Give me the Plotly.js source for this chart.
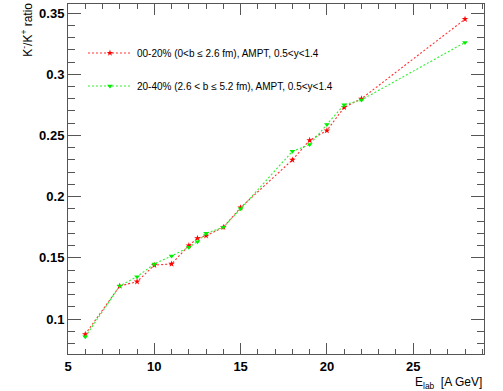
<!DOCTYPE html>
<html><head><meta charset="utf-8">
<script src="https://cdn.plot.ly/plotly-3.0.1.min.js"></script>
<style>html,body{margin:0;padding:0;background:#fff}#plot{width:503px;height:391px}</style>
</head><body><div id="plot"></div>
<script>
const energy = [6, 8, 9, 10, 11, 12, 12.5, 13, 14, 15, 18, 19, 20, 21, 22, 28];
const central = [0.0875, 0.127, 0.1305, 0.144, 0.145, 0.160, 0.166, 0.168, 0.175, 0.191, 0.230, 0.246, 0.254, 0.273, 0.280, 0.345];
const midCentral = [0.0855, 0.127, 0.1346, 0.145, 0.1515, 0.1586, 0.1632, 0.170, 0.175, 0.190, 0.237, 0.2425, 0.259, 0.275, 0.279, 0.326];
const names = ["00-20% (0<b \u2264 2.6 fm), AMPT, 0.5<y<1.4", "20-40% (2.6 < b \u2264 5.2 fm), AMPT, 0.5<y<1.4"];

const axisCommon = {
  showline: true, linecolor: '#555', linewidth: 1, mirror: 'ticks',
  ticks: 'inside', tickcolor: '#555', tickwidth: 1,
  showgrid: false, zeroline: false,
  tickfont: {family: 'Liberation Sans, Arial, sans-serif', size: 13, color: '#000', weight: 'bold'}
};

const traces = [
  {x: energy, y: central, name: names[0], mode: 'lines+markers', legend: 'legend',
   line: {color: '#ff3030', width: 1.1, dash: '2px,2px'},
   marker: {color: '#ff0000', symbol: 'star', size: 5}},
  {x: energy, y: midCentral, name: names[1], mode: 'lines+markers', legend: 'legend2',
   line: {color: '#30f030', width: 1.1, dash: '2px,2px'},
   marker: {color: '#00ee00', symbol: 'triangle-down', size: 5}}
];

const legendCommon = {
  xref: 'paper', yref: 'paper', xanchor: 'left', yanchor: 'middle', itemwidth: 44,
  bgcolor: 'rgba(0,0,0,0)', borderwidth: 0,
  font: {family: 'Liberation Sans, Arial, sans-serif', size: 10, color: '#000'}
};

const layout = {
  width: 503, height: 391,
  margin: {l: 68, r: 19, t: 4, b: 37},
  paper_bgcolor: '#fff', plot_bgcolor: '#fff',
  showlegend: true,
  legend: Object.assign({x: 0.036, y: (354 - 53) / 350}, legendCommon),
  legend2: Object.assign({x: 0.036, y: (354 - 86) / 350}, legendCommon),
  xaxis: Object.assign({}, axisCommon, {
    range: [5, 29.1], dtick: 5, tick0: 5, ticklen: 11,
    minor: {dtick: 1, ticklen: 5, ticks: 'inside', tickcolor: '#555'}
  }),
  yaxis: Object.assign({}, axisCommon, {
    range: [0.0714, 0.3574], dtick: 0.05, tick0: 0.1, ticklen: 13,
    minor: {dtick: 0.01, ticklen: 7, ticks: 'inside', tickcolor: '#555'}
  }),
  annotations: [
    {text: 'K<sup>-</sup>/K<sup>+</sup> ratio', xref: 'paper', yref: 'paper',
     x: -0.098, y: 1.01, xanchor: 'center', yanchor: 'top', textangle: -90, showarrow: false,
     font: {family: 'Liberation Sans, Arial, sans-serif', size: 12, color: '#000'}},
    {text: 'E<sub>lab</sub>  [A GeV]', xref: 'paper', yref: 'paper',
     x: 1.0, y: -0.055, xanchor: 'right', yanchor: 'top', showarrow: false,
     font: {family: 'Liberation Sans, Arial, sans-serif', size: 12, color: '#000'}}
  ]
};

Plotly.newPlot('plot', traces, layout, {displayModeBar: false, staticPlot: true});
</script></body></html>
